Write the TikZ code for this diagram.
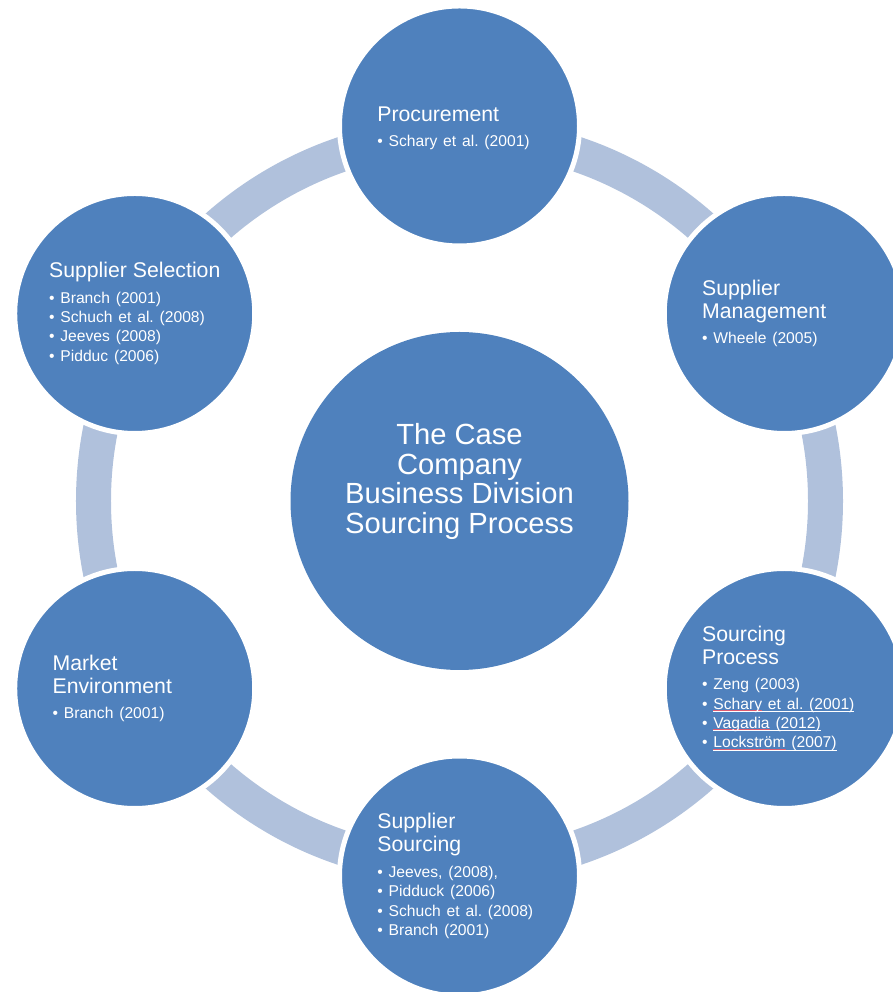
\documentclass[tikz,border=0pt]{standalone}
\usepackage{fontspec}
\setmainfont{Liberation Sans}
\setlength{\parindent}{0pt}
\frenchspacing

\definecolor{discblue}{RGB}{79,129,189}
\definecolor{ringblue}{RGB}{176,193,220}
\definecolor{spellred}{RGB}{222,92,112}

\newcommand{\disctitle}{\fontsize{12.1}{13.1}\selectfont}
\newcommand{\disccite}{\fontsize{8.9}{11}\selectfont}
\newcommand{\linkline}[1]{\setbox0=\hbox{#1}\rlap{\rule[-0.17em]{\wd0}{0.055em}}\box0\relax}
\newcommand{\spellmark}[1]{\setbox0=\hbox{#1}\rlap{\color{spellred}\rule[-0.09em]{\wd0}{0.04em}}\box0\relax}

\tikzset{
  disc/.style={circle, fill=discblue, draw=white, line width=0.1cm,
               minimum size=4.8cm, inner sep=0pt},
  hub/.style={circle, fill=discblue, minimum size=6.76cm, inner sep=0pt},
  disctext/.style={anchor=west, text=white, text width=5cm, align=left, inner sep=0pt},
  hubtext/.style={text=white, align=center, inner sep=0pt,
                  font=\fontsize{16.6}{17}\selectfont}
}

\begin{document}
\begin{tikzpicture}

\useasboundingbox (-9.19,-9.82) rectangle (8.65,10.02);

% Ring
\draw[ringblue, line width=0.7cm] (0,0) circle [radius=7.32cm];

% Discs
\foreach \ang/\name in {90/proc, 30/mgmt, -30/srcp, -90/srcs, -150/mkt, 150/sel}
  \node[disc] (\name) at (\ang:7.5cm) {};

% Central disc
\node[hub] (hub) at (0,0) {};
\node[hubtext] (hubT) at (0,0.39cm) {The Case\\Company\\Business Division\\Sourcing Process};

% Disc texts
\node[disctext] (procT) at ([xshift=-1.65cm,yshift=-0.05cm]proc.center)
  {{\disctitle Procurement\par}\vspace{3.5pt}
   {\disccite\textbullet\ Schary et al. (2001)\par}};

\node[disctext] (mgmtT) at ([xshift=-1.65cm]mgmt.center)
  {{\disctitle Supplier\\Management\par}\vspace{3.5pt}
   {\disccite\textbullet\ Wheele (2005)\par}};

\node[disctext] (srcpT) at ([xshift=-1.65cm]srcp.center)
  {{\disctitle Sourcing\\Process\par}\vspace{3.5pt}
   {\disccite\textbullet\ Zeng (2003)\\
    \textbullet\ \linkline{\spellmark{Schary} et al. (2001)}\\
    \textbullet\ \linkline{\spellmark{Vagadia} (2012)}\\
    \textbullet\ \linkline{\spellmark{Lockström} (2007)}\par}};

\node[disctext] (srcsT) at ([xshift=-1.65cm]srcs.center)
  {{\disctitle Supplier\\Sourcing\par}\vspace{3.5pt}
   {\disccite\textbullet\ Jeeves, (2008),\\
    \textbullet\ Pidduck (2006)\\
    \textbullet\ Schuch et al. (2008)\\
    \textbullet\ Branch (2001)\par}};

\node[disctext] (mktT) at ([xshift=-1.65cm]mkt.center)
  {{\disctitle Market\\Environment\par}\vspace{3.5pt}
   {\disccite\textbullet\ Branch (2001)\par}};

\node[disctext] (selT) at ([xshift=-1.72cm]sel.center)
  {{\disctitle Supplier Selection\par}\vspace{3.5pt}
   {\disccite\textbullet\ Branch (2001)\\
    \textbullet\ Schuch et al. (2008)\\
    \textbullet\ Jeeves (2008)\\
    \textbullet\ Pidduc (2006)\par}};

\end{tikzpicture}
\end{document}
